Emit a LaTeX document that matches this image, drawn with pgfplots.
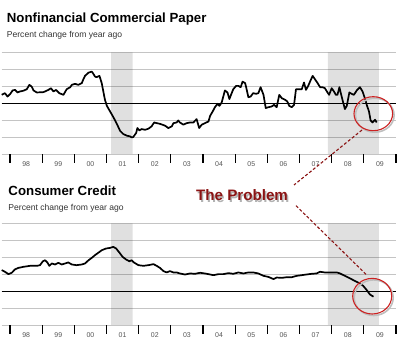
\documentclass[border=0pt]{standalone}
\usepackage{fontspec}
\setmainfont{Liberation Sans}
\usepackage{pgfplots}
\pgfplotsset{compat=1.18}
\definecolor{gridgray}{HTML}{C4C4C4}
\definecolor{probred}{HTML}{8B1414}
\definecolor{circred}{HTML}{CC2222}
\definecolor{subgray}{HTML}{333333}
\definecolor{tickgray}{HTML}{555555}

\pgfplotstableread{
x y
1997.74 0.49
1997.84 0.59
1997.92 0.39
1998.00 0.53
1998.08 0.75
1998.16 0.78
1998.23 0.63
1998.31 0.69
1998.41 0.73
1998.52 0.82
1998.60 1.08
1998.67 0.98
1998.73 0.75
1998.83 0.63
1999.04 0.65
1999.19 0.78
1999.27 0.88
1999.35 0.69
1999.43 0.78
1999.53 0.59
1999.66 0.49
1999.76 0.82
1999.87 0.94
1999.92 1.08
2000.02 1.14
2000.12 1.08
2000.23 1.18
2000.28 1.41
2000.33 1.61
2000.44 1.80
2000.54 1.86
2000.59 1.73
2000.64 1.57
2000.69 1.53
2000.78 1.61
2000.85 1.18
2000.90 0.69
2000.95 0.20
2001.01 -0.16
2001.11 -0.49
2001.21 -0.82
2001.32 -1.22
2001.42 -1.63
2001.52 -1.82
2001.63 -1.92
2001.73 -1.96
2001.78 -2.02
2001.83 -2.00
2001.92 -1.76
2001.96 -1.47
2002.02 -1.61
2002.09 -1.53
2002.20 -1.57
2002.30 -1.51
2002.40 -1.37
2002.48 -1.14
2002.56 -1.18
2002.66 -1.22
2002.82 -1.33
2002.92 -1.47
2003.03 -1.37
2003.08 -1.18
2003.18 -1.14
2003.23 -1.02
2003.28 -1.14
2003.39 -1.27
2003.49 -1.18
2003.60 -1.14
2003.70 -1.14
2003.80 -0.94
2003.88 -1.47
2003.96 -1.27
2004.06 -1.18
2004.17 -1.08
2004.22 -0.75
2004.30 -0.49
2004.37 -0.24
2004.45 -0.04
2004.51 -0.16
2004.58 0.04
2004.63 0.39
2004.68 0.75
2004.76 0.63
2004.82 0.24
2004.87 0.49
2004.94 0.82
2005.03 1.02
2005.10 1.02
2005.17 0.94
2005.23 1.27
2005.31 1.18
2005.36 0.78
2005.41 0.35
2005.48 0.39
2005.56 0.59
2005.65 0.55
2005.72 0.59
2005.79 0.94
2005.88 0.49
2005.95 -0.29
2006.03 -0.24
2006.13 -0.20
2006.21 -0.10
2006.29 -0.24
2006.37 0.49
2006.45 0.29
2006.55 0.20
2006.62 0.10
2006.68 -0.16
2006.76 -0.24
2006.83 -0.10
2006.89 0.82
2006.96 0.82
2007.07 0.82
2007.14 1.22
2007.20 0.78
2007.27 1.02
2007.35 1.37
2007.41 1.61
2007.48 1.41
2007.55 1.22
2007.64 0.94
2007.72 0.94
2007.79 0.88
2007.87 0.63
2007.92 0.49
2008.00 0.88
2008.07 0.69
2008.13 0.49
2008.18 0.49
2008.24 0.94
2008.31 0.39
2008.41 -0.35
2008.47 -0.16
2008.55 0.63
2008.62 0.55
2008.69 0.49
2008.78 0.75
2008.88 0.94
2008.96 0.69
2009.04 0.24
2009.09 -0.10
2009.16 -0.49
2009.21 -1.02
2009.27 -1.14
2009.35 -0.98
2009.40 -1.14
}\paperdata

\pgfplotstableread{
x y
1997.74 1.24
1997.84 1.14
1997.95 1.00
1998.05 1.08
1998.16 1.29
1998.26 1.37
1998.41 1.43
1998.62 1.49
1998.83 1.49
1998.93 1.53
1999.02 1.76
1999.09 1.82
1999.16 1.69
1999.22 1.49
1999.30 1.63
1999.40 1.57
1999.50 1.67
1999.61 1.57
1999.71 1.63
1999.81 1.69
1999.92 1.57
2000.07 1.53
2000.23 1.57
2000.33 1.63
2000.44 1.82
2000.54 1.96
2000.64 2.12
2000.75 2.27
2000.85 2.41
2000.98 2.51
2001.11 2.55
2001.21 2.61
2001.30 2.51
2001.40 2.27
2001.50 2.02
2001.61 1.86
2001.71 1.76
2001.78 1.82
2001.85 1.69
2001.99 1.53
2002.15 1.49
2002.30 1.53
2002.46 1.59
2002.56 1.49
2002.66 1.37
2002.77 1.18
2002.87 1.10
2002.97 1.18
2003.08 1.10
2003.18 1.10
2003.28 1.04
2003.44 0.98
2003.60 1.04
2003.75 1.02
2003.91 1.08
2004.06 1.04
2004.17 1.00
2004.32 0.94
2004.48 1.00
2004.63 1.00
2004.79 1.06
2004.94 1.02
2005.10 1.10
2005.25 1.04
2005.41 1.10
2005.56 1.10
2005.72 1.04
2005.88 0.90
2006.03 0.84
2006.19 0.71
2006.29 0.80
2006.45 0.78
2006.60 0.82
2006.76 0.82
2006.91 0.90
2007.07 0.94
2007.22 0.98
2007.38 1.02
2007.53 1.04
2007.64 1.14
2007.79 1.10
2007.95 1.10
2008.16 1.10
2008.26 1.04
2008.41 0.90
2008.57 0.75
2008.73 0.59
2008.88 0.45
2008.98 0.31
2009.09 0.06
2009.19 -0.20
2009.30 -0.33
}\creditdata

\pgfplotsset{
  panel/.style={
    scale only axis, width=394.3bp, height=101.7bp,
    xmin=1997.74, xmax=2010,
    axis line style={draw=none},
    clip=false,
    xtick={1998,...,2010}, xticklabels={},
    xtick pos=left,
    tick align=outside,
    major tick length=9bp,
    xtick style={black, line width=1.2bp},
    ymajorgrids, yticklabels={}, ytick style={draw=none},
    grid style={gridgray, line width=0.8bp},
    extra y ticks={0}, extra y tick labels={},
    extra y tick style={grid style={black, line width=1.1bp}},
    extra x ticks={1998.5,1999.5,2000.5,2001.5,2002.5,2003.5,2004.5,2005.5,2006.5,2007.5,2008.5,2009.5},
    extra x tick labels={98,99,00,01,02,03,04,05,06,07,08,09},
    extra x tick style={major tick length=0pt, xtick style={draw=none},
      xticklabel style={anchor=base, yshift=-12.7bp, font=\fontsize{7}{8}\selectfont, text=tickgray}},
  }
}

\begin{document}
\begin{tikzpicture}
\path[use as bounding box] (0,0) rectangle (400bp,351bp);

% ---------- top panel ----------
\begin{axis}[panel, at={(1.7bp,197bp)}, anchor=south west,
  ymin=-3, ymax=3, ytick={-3,...,3}]
  \addplot[fill=black, fill opacity=0.12, draw=none] coordinates
    {(2001.14,-3) (2001.81,-3) (2001.81,3) (2001.14,3) (2001.14,-3)};
  \addplot[fill=black, fill opacity=0.12, draw=none] coordinates
    {(2007.88,-3) (2009.47,-3) (2009.47,3) (2007.88,3) (2007.88,-3)};
  \addplot[black, line width=1.7bp, line join=round] table[x=x,y=y] {\paperdata};
\end{axis}

% ---------- bottom panel ----------
\begin{axis}[panel, at={(1.7bp,26bp)}, anchor=south west,
  ymin=-2, ymax=4, ytick={-2,...,4}]
  \addplot[fill=black, fill opacity=0.12, draw=none] coordinates
    {(2001.14,-2) (2001.81,-2) (2001.81,4) (2001.14,4) (2001.14,-2)};
  \addplot[fill=black, fill opacity=0.12, draw=none] coordinates
    {(2007.88,-2) (2009.47,-2) (2009.47,4) (2007.88,4) (2007.88,-2)};
  \addplot[black, line width=1.7bp, line join=round] table[x=x,y=y] {\creditdata};
\end{axis}

% ---------- titles ----------
\node[anchor=base west, inner sep=0, font=\bfseries\fontsize{13.3}{15}\selectfont]
  at (6.7bp,328.3bp) {Nonfinancial Commercial Paper};
\node[anchor=base west, inner sep=0, font=\fontsize{8.6}{10}\selectfont, text=subgray]
  at (6.7bp,313.5bp) {Percent change from year ago};
\node[anchor=base west, inner sep=0, font=\bfseries\fontsize{13.3}{15}\selectfont]
  at (8.3bp,155.3bp) {Consumer Credit};
\node[anchor=base west, inner sep=0, font=\fontsize{8.6}{10}\selectfont, text=subgray]
  at (8.3bp,140.3bp) {Percent change from year ago};

% ---------- annotation ----------
\draw[probred, line width=1.1bp, dash pattern=on 3bp off 2bp] (362bp,221bp) -- (294bp,166bp);
\draw[probred, line width=1.1bp, dash pattern=on 3bp off 2bp] (296bp,145.3bp) -- (366.7bp,76bp);
\node[anchor=base west, inner sep=0, font=\bfseries\fontsize{15.2}{17}\selectfont, text=black!30]
  at (197.5bp,148.5bp) {The Problem};
\node[anchor=base west, inner sep=0, font=\bfseries\fontsize{15.2}{17}\selectfont, text=probred]
  at (196bp,150bp) {The Problem};
\draw[black!25, line width=1.6bp] (374.8bp,235.8bp) ellipse [x radius=19.3bp, y radius=17bp];
\draw[circred, line width=1.1bp] (373.3bp,237.3bp) ellipse [x radius=19.3bp, y radius=17bp];
\draw[black!25, line width=1.6bp] (373.7bp,53.3bp) ellipse [x radius=19.5bp, y radius=17.8bp];
\draw[circred, line width=1.1bp] (372.2bp,54.8bp) ellipse [x radius=19.5bp, y radius=17.8bp];
\end{tikzpicture}
\end{document}
